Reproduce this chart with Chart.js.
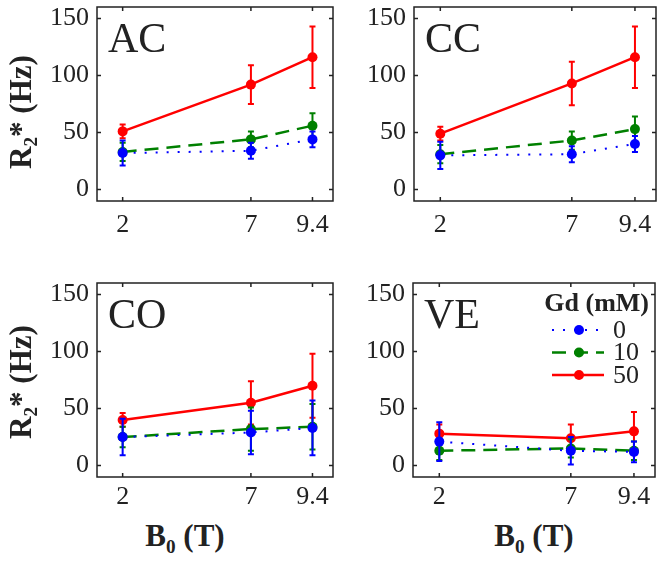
<!DOCTYPE html>
<html>
<head>
<meta charset="utf-8">
<script src="https://cdn.jsdelivr.net/npm/chart.js@4.4.0/dist/chart.umd.min.js"></script>
<style>
body { margin: 0; background: #fff; }
#wrap { position: relative; width: 664px; height: 563px; overflow: hidden; font-family: 'Liberation Serif', serif; color: #222; }
#wrap canvas { position: absolute; }
.ylab, .xlab { position: absolute; font-weight: bold; font-size: 31px; white-space: nowrap; line-height: 1; }
.ylab { transform: translate(-50%, -50%) rotate(-90deg); }
.xlab { transform: translate(-50%, 0); }
sub { font-size: 0.62em; vertical-align: -0.35em; line-height: 0; }
</style>
</head>
<body>
<div id="wrap">
  <canvas id="cAC" width="340" height="240" style="left:0;top:0"></canvas>
  <canvas id="cCC" width="346" height="240" style="left:318px;top:0"></canvas>
  <canvas id="cCO" width="340" height="240" style="left:0;top:276px"></canvas>
  <canvas id="cVE" width="346" height="240" style="left:318px;top:276px"></canvas>
  <div class="ylab" style="left:20px;top:112px">R<sub>2</sub>*&nbsp;(Hz)</div>
  <div class="ylab" style="left:20px;top:382px">R<sub>2</sub>*&nbsp;(Hz)</div>
  <div class="xlab" style="left:185px;top:520px">B<sub>0</sub>&nbsp;(T)</div>
  <div class="xlab" style="left:534px;top:520px">B<sub>0</sub>&nbsp;(T)</div>
</div>
<script>
// field strengths (T) and tick values
const fieldStrengths = [2, 7, 9.4];
const yTickValues = [0, 50, 100, 150];
const gdLabels = ['0', '10', '50'];

// AC
const acGd0 = [32, 34, 44];     const acGd0Err = [11, 7, 7];
const acGd10 = [33, 44, 56];    const acGd10Err = [8, 7, 11];
const acGd50 = [51, 92, 116];   const acGd50Err = [6, 17, 27];
// CC
const ccGd0 = [30, 31, 40];     const ccGd0Err = [12, 7, 7];
const ccGd10 = [31, 43, 53];    const ccGd10Err = [8, 8, 11];
const ccGd50 = [49, 93, 116];   const ccGd50Err = [6, 19, 27];
// CO
const coGd0 = [25, 29, 33];     const coGd0Err = [16, 19, 24];
const coGd10 = [25, 32, 34];    const coGd10Err = [9, 19, 20];
const coGd50 = [40, 55, 70];    const coGd50Err = [6, 19, 28];
// VE
const veGd0 = [21, 13, 12];     const veGd0Err = [17, 12, 9];
const veGd10 = [13, 15, 13];    const veGd10Err = [8, 8, 8];
const veGd50 = [28, 24, 30];    const veGd50Err = [8, 12, 17];

const BLUE = '#0000ff', GREEN = '#008000', RED = '#ff0000';
const FONT = "'Liberation Serif', serif";

function pts(vals) {
    return fieldStrengths.map((x, i) => ({ x: x, y: vals[i] }));
}

// no automatic label padding, the box is placed by layout padding only
function noPad(s) {
    s.paddingTop = 0; s.paddingBottom = 0;
    s.paddingLeft = 0; s.paddingRight = 0;
}

// draws box, inward ticks, panel name, error bars and the legend
const matlabAxes = {
    id: 'matlabAxes',
    beforeDatasetDraw(chart, args) {
        const ds = chart.data.datasets[args.index];
        const y = chart.scales.y;
        const ctx = chart.ctx;
        ctx.save();
        ctx.strokeStyle = ds.borderColor;
        ctx.lineWidth = 2;
        ctx.setLineDash([]);
        args.meta.data.forEach((p, i) => {
            const v = ds.data[i].y, e = ds.errors[i];
            const t = y.getPixelForValue(v + e), b = y.getPixelForValue(v - e);
            ctx.beginPath();
            ctx.moveTo(p.x, t); ctx.lineTo(p.x, b);
            ctx.moveTo(p.x - 3, t); ctx.lineTo(p.x + 3, t);
            ctx.moveTo(p.x - 3, b); ctx.lineTo(p.x + 3, b);
            ctx.stroke();
        });
        ctx.restore();
    },
    afterDraw(chart, args, opts) {
        const ctx = chart.ctx, a = chart.chartArea;
        const xs = chart.scales.x, ys = chart.scales.y;
        ctx.save();
        ctx.strokeStyle = '#222';
        ctx.lineWidth = 1.5;
        ctx.strokeRect(a.left, a.top, a.right - a.left, a.bottom - a.top);
        ctx.beginPath();
        yTickValues.forEach(v => {
            const py = ys.getPixelForValue(v);
            ctx.moveTo(a.left, py); ctx.lineTo(a.left + 4, py);
            ctx.moveTo(a.right, py); ctx.lineTo(a.right - 4, py);
        });
        fieldStrengths.forEach(v => {
            const px = xs.getPixelForValue(v);
            ctx.moveTo(px, a.bottom); ctx.lineTo(px, a.bottom - 4);
            ctx.moveTo(px, a.top); ctx.lineTo(px, a.top + 4);
        });
        ctx.stroke();

        // panel name
        ctx.fillStyle = '#222';
        ctx.font = '42px ' + FONT;
        ctx.textBaseline = 'alphabetic';
        ctx.fillText(opts.name, a.left + 11, a.top + 45);

        if (opts.legend) {
            ctx.font = 'bold 26px ' + FONT;
            ctx.textAlign = 'right';
            ctx.fillText('Gd (mM)', a.right - 6, a.top + 28);
            ctx.textAlign = 'left';
            ctx.textBaseline = 'middle';
            ctx.font = '26px ' + FONT;
            chart.data.datasets.forEach((ds, i) => {
                const ry = a.top + 47 + i * 22.5;
                ctx.strokeStyle = ds.borderColor;
                ctx.lineWidth = ds.borderWidth;
                ctx.setLineDash(ds.borderDash || []);
                ctx.beginPath();
                ctx.moveTo(a.right - 103, ry); ctx.lineTo(a.right - 51, ry);
                ctx.stroke();
                ctx.setLineDash([]);
                ctx.fillStyle = ds.borderColor;
                ctx.beginPath();
                ctx.arc(a.right - 76, ry, 5, 0, Math.PI * 2);
                ctx.fill();
                ctx.fillStyle = '#222';
                ctx.fillText(ds.label, a.right - 42, ry + 1);
            });
        }
        ctx.restore();
    }
};

function makePanel(id, name, series, yWidth, padRight, xPad, legend) {
    const colors = [BLUE, GREEN, RED];
    const dashes = [[2, 9], [14, 8], []];
    const widths = [2, 2.5, 2.5];
    const datasets = series.map((s, i) => ({
        label: gdLabels[i],
        data: pts(s[0]),
        errors: s[1],
        borderColor: colors[i],
        backgroundColor: colors[i],
        borderDash: dashes[i],
        borderWidth: widths[i],
        pointRadius: 5,
        pointBorderWidth: 0,
        showLine: true,
        clip: false
    }));
    return new Chart(document.getElementById(id), {
        type: 'scatter',
        data: { datasets: datasets },
        options: {
            responsive: false,
            animation: false,
            layout: { padding: { top: 7, right: padRight, left: 0, bottom: 0 } },
            plugins: {
                legend: { display: false },
                tooltip: { enabled: false },
                matlabAxes: { name: name, legend: legend }
            },
            scales: {
                x: {
                    type: 'linear', min: 1, max: 10.2,
                    afterBuildTicks: s => { s.ticks = fieldStrengths.map(v => ({ value: v })); },
                    afterFit: s => { s.height = 39; noPad(s); },
                    grid: { display: false, drawTicks: false },
                    border: { display: false },
                    ticks: { color: '#222', padding: xPad, font: { family: FONT, size: 26 }, callback: v => String(v) }
                },
                y: {
                    type: 'linear', min: -10, max: 160,
                    afterBuildTicks: s => { s.ticks = yTickValues.map(v => ({ value: v })); },
                    afterFit: s => { s.width = yWidth; noPad(s); },
                    grid: { display: false, drawTicks: false },
                    border: { display: false },
                    ticks: { color: '#222', padding: 8, font: { family: FONT, size: 26 } }
                }
            }
        },
        plugins: [matlabAxes]
    });
}

makePanel('cAC', 'AC', [[acGd0, acGd0Err], [acGd10, acGd10Err], [acGd50, acGd50Err]], 97, 7, 9, false);
makePanel('cCC', 'CC', [[ccGd0, ccGd0Err], [ccGd10, ccGd10Err], [ccGd50, ccGd50Err]], 96, 8, 9, false);
makePanel('cCO', 'CO', [[coGd0, coGd0Err], [coGd10, coGd10Err], [coGd50, coGd50Err]], 97, 7, 5, false);
makePanel('cVE', 'VE', [[veGd0, veGd0Err], [veGd10, veGd10Err], [veGd50, veGd50Err]], 95, 9, 5, true);
</script>
</body>
</html>
